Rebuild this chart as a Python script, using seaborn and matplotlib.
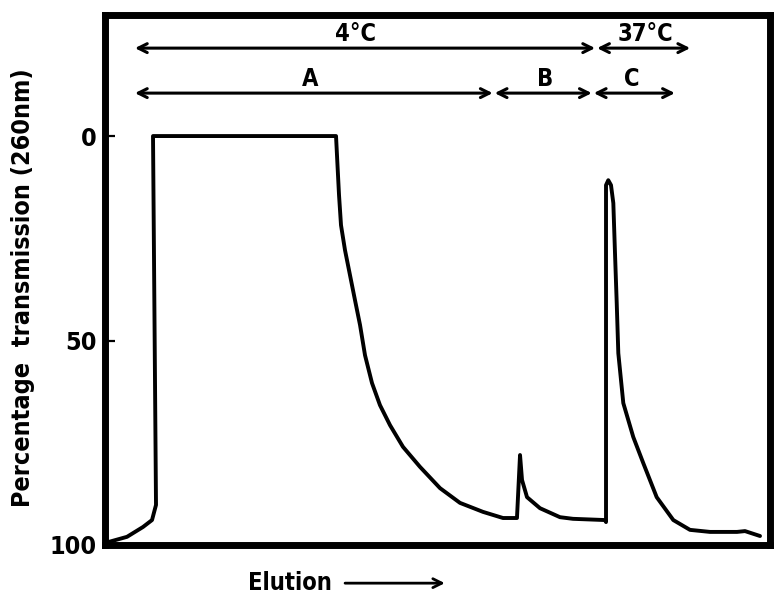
import matplotlib
matplotlib.use("Agg")
import matplotlib.pyplot as plt
import seaborn as sns
import pandas as pd

# ---- data (elution in arbitrary units, % transmission at 260 nm) ----
elution = [0.45, 3.31, 5.71, 7.07, 7.67, 7.22,
           34.74, 34.96, 35.19, 35.49, 36.09, 36.84, 37.59, 38.35, 39.10,
           40.15, 41.35, 42.86, 44.81, 47.37, 50.38, 53.38, 56.84, 59.85,
           61.95, 62.41, 62.71, 63.46, 65.41, 68.42, 70.38, 75.19,
           75.34, 75.34, 75.68, 76.09, 76.44, 76.69, 76.95, 77.19, 77.94,
           79.44, 80.95, 82.96, 85.46, 87.97, 90.98, 95.04, 96.24, 98.50]
transmission = [99.3, 98.0, 95.6, 93.9, 90.2, 0.0,
                0.0, 7.1, 14.4, 21.8, 27.9, 34.0, 40.1, 46.2, 53.6,
                60.4, 65.8, 70.7, 76.0, 80.9, 86.1, 89.7, 91.9, 93.4,
                93.4, 78.0, 84.1, 88.3, 91.0, 93.2, 93.6, 93.9,
                94.4, 12.0, 10.8, 12.0, 16.4, 28.6, 40.8, 53.1, 65.3,
                73.6, 80.0, 88.3, 93.9, 96.3, 96.8, 96.8, 96.6, 97.8]

ytick_values = [0, 50, 100]
ytick_labels = ["0", "50", "100"]

temp_labels = ["4°C", "37°C"]
temp_starts = [4.5, 74.0]
temp_ends = [73.7, 88.0]
temp_label_x = [37.6, 81.2]

fraction_labels = ["A", "B", "C"]
fraction_starts = [4.5, 58.6, 73.5]
fraction_ends = [58.3, 73.2, 85.7]
fraction_label_x = [30.8, 66.2, 79.2]

df = pd.DataFrame({"Elution": elution, "Transmission": transmission})

sns.set_theme(style="white")
plt.rcParams["font.family"] = ["DejaVu Sans"]
plt.rcParams["font.stretch"] = "condensed"
plt.rcParams["font.weight"] = "bold"
plt.rcParams["axes.labelweight"] = "bold"

fig = plt.figure(figsize=(7.76, 6.0), dpi=100)
fig.patch.set_facecolor("white")
ax = fig.add_axes([105 / 776, 1 - 545 / 600, 665 / 776, 530 / 600])

sns.lineplot(data=df, x="Elution", y="Transmission", sort=False,
             estimator=None, color="black", linewidth=2.8, ax=ax)

ax.set_xlim(0, 100)
ax.set_ylim(100, -29.6)

for s in ax.spines.values():
    s.set_linewidth(5)
    s.set_color("black")

ax.set_xticks([])
ax.set_yticks(ytick_values)
ax.set_yticklabels(ytick_labels)
ax.tick_params(axis="y", direction="in", length=7, width=1.6, pad=6,
               labelsize=18, left=True, colors="black")

ax.set_xlabel("")
ax.set_ylabel("Percentage  transmission (260nm)", fontsize=18,
              fontweight="bold", color="black")
ax.yaxis.set_label_coords(-0.105, 0.485)

arrow_kw = dict(arrowstyle="<->", color="black", lw=2.2, mutation_scale=16,
                shrinkA=0, shrinkB=0)
for lab, a, b, xc in zip(temp_labels, temp_starts, temp_ends, temp_label_x):
    ax.annotate("", xy=(a, -21.5), xytext=(b, -21.5), arrowprops=arrow_kw)
    ax.text(xc, -22.0, lab, ha="center", va="bottom", fontsize=17,
            color="black")

for lab, a, b, xc in zip(fraction_labels, fraction_starts, fraction_ends,
                         fraction_label_x):
    ax.annotate("", xy=(a, -10.5), xytext=(b, -10.5), arrowprops=arrow_kw)
    ax.text(xc, -11.0, lab, ha="center", va="bottom", fontsize=17,
            color="black")

ax.text(0.278, -0.072, "Elution", transform=ax.transAxes, ha="center",
        va="center", fontsize=17, color="black")
ax.annotate("", xy=(0.511, -0.072), xytext=(0.361, -0.072),
            xycoords="axes fraction", textcoords="axes fraction",
            arrowprops=dict(arrowstyle="->", color="black", lw=2.0,
                            mutation_scale=16, shrinkA=0, shrinkB=0),
            annotation_clip=False)

fig.savefig("out.png", dpi=100, facecolor="white")
